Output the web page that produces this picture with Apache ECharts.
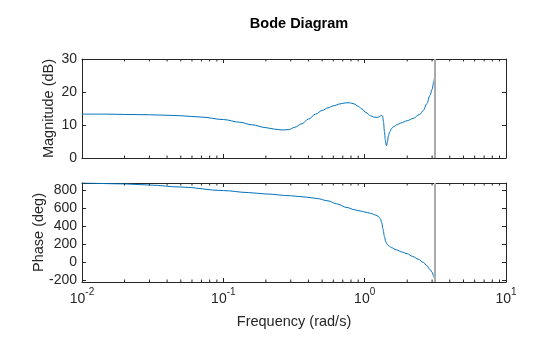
<!DOCTYPE html>
<html>
<head>
<meta charset="utf-8">
<script src="https://cdn.jsdelivr.net/npm/echarts@6/dist/echarts.min.js"></script>
<style>
  html, body { margin: 0; padding: 0; background: #fff; }
  #chart { width: 560px; height: 337px; }
</style>
</head>
<body>
<div id="chart"></div>
<script>
// Magnitude response (dB) against frequency (rad/s)
const magFreq = [0.01, 0.015, 0.02, 0.03, 0.04, 0.05, 0.07, 0.1, 0.13, 0.16, 0.2, 0.23, 0.26, 0.29,
  0.32, 0.36, 0.4, 0.45, 0.5, 0.55, 0.6, 0.67, 0.73, 0.78, 0.84, 0.9, 0.96, 1.02, 1.1, 1.16, 1.22,
  1.27, 1.3, 1.32, 1.34, 1.36, 1.38, 1.4, 1.42, 1.43, 1.45, 1.47, 1.5, 1.55, 1.6, 1.7, 1.8, 2.0,
  2.2, 2.45, 2.6, 2.75, 2.9, 3.0, 3.08, 3.1416];
const magDb = [13.3, 13.3, 13.2, 13.1, 12.95, 12.8, 12.4, 11.65, 10.85, 10.05, 9.2, 8.75, 8.5, 8.6,
  9.3, 10.4, 11.8, 13.3, 14.4, 15.2, 15.8, 16.4, 16.7, 16.75, 16.4, 15.7, 14.8, 13.8, 12.8, 12.4, 12.3,
  12.5, 12.8, 13.0, 12.6, 10.8, 8.0, 5.5, 3.9, 3.7, 5.0, 6.6, 7.8, 8.9, 9.5, 10.1, 10.6, 11.3,
  12.0, 13.2, 14.4, 16.4, 19.0, 20.8, 23.0, 25.6];

// Phase response (deg) against frequency (rad/s)
const phaseFreq = [0.01, 0.02, 0.03, 0.05, 0.1, 0.15, 0.2, 0.3, 0.39, 0.46, 0.55, 0.63, 0.75, 0.85,
  0.93, 1.0, 1.1, 1.2, 1.25, 1.29, 1.32, 1.35, 1.38, 1.41, 1.44, 1.48, 1.55, 1.67, 1.85, 2.0, 2.18,
  2.4, 2.6, 2.75, 2.9, 3.0, 3.07, 3.1416];
const phaseDeg = [887, 875, 862, 840, 800, 778, 762, 742, 726, 711, 685, 652, 610, 585,
  571, 560, 545, 525, 510, 485, 440, 365, 285, 228, 200, 180, 160, 136, 110, 92, 62,
  30, -5, -40, -85, -115, -155, -210];

// Nyquist frequency of the sampled system (rad/s)
const nyquistFreq = 3.1416;

// Axis ranges and tick values
const freqRange = [0.01, 10];
const magRange = [0, 30];
const magTicks = [0, 10, 20, 30];
const phaseRange = [-225, 885];
const phaseTicks = [-200, 0, 200, 400, 600, 800];
const minorFreqTicks = [0.02, 0.03, 0.04, 0.05, 0.06, 0.07, 0.08, 0.09,
  0.2, 0.3, 0.4, 0.5, 0.6, 0.7, 0.8, 0.9, 2, 3, 4, 5, 6, 7, 8, 9];

const ink = '#262626';
const font = "'Liberation Sans', Arial, Helvetica, sans-serif";
const lineBlue = '#0072BD';
const tickFont = 14;
const nameFont = 14.5;

function pair(xs, ys) { return xs.map((x, i) => [x, ys[i]]); }

function freqAxis(gridIndex, position, showLabels, withName) {
  const ax = {
    type: 'log', logBase: 10, gridIndex, position,
    min: freqRange[0], max: freqRange[1],
    axisLine: { show: true, onZero: false, lineStyle: { color: ink, width: 1 } },
    axisTick: { show: true, inside: true, length: 4, lineStyle: { color: ink } },
    splitLine: { show: false },
    axisLabel: { show: false }
  };
  if (showLabels) {
    ax.axisLabel = {
      show: true, margin: 5, fontFamily: font, color: ink,
      formatter: v => '{b|10}{s|' + Math.round(Math.log10(v)) + '}',
      rich: {
        b: { fontSize: tickFont, fontFamily: font, color: ink, lineHeight: 19, verticalAlign: 'bottom' },
        s: { fontSize: 10, fontFamily: font, color: ink, lineHeight: 10, verticalAlign: 'top' }
      }
    };
  }
  if (withName) {
    ax.name = 'Frequency (rad/s)';
    ax.nameLocation = 'middle';
    ax.nameGap = 32;
    ax.nameTextStyle = { fontFamily: font, fontSize: nameFont, color: ink };
  }
  return ax;
}

function valueAxis(gridIndex, position, range, ticks, name, nameGap) {
  const ax = {
    type: 'value', gridIndex, position,
    min: range[0], max: range[1],
    axisLine: { show: true, onZero: false, lineStyle: { color: ink, width: 1 } },
    axisTick: { show: true, inside: true, length: 4, customValues: ticks, lineStyle: { color: ink } },
    splitLine: { show: false },
    axisLabel: { show: false }
  };
  if (name) {
    ax.axisLabel = { show: true, customValues: ticks, margin: 5, fontFamily: font, fontSize: tickFont, color: ink };
    ax.name = name;
    ax.nameLocation = 'middle';
    ax.nameGap = nameGap;
    ax.nameMoveOverlap = false;
    ax.nameRotate = 90;
    ax.nameTextStyle = { fontFamily: font, fontSize: nameFont, color: ink };
  }
  return ax;
}

// Short log-decade ticks on the bottom and top edges of a panel
function minorTicks(xIdx, yIdx, yRange) {
  return {
    type: 'custom', xAxisIndex: xIdx, yAxisIndex: yIdx, silent: true, clip: false, z: 5,
    data: minorFreqTicks.map(v => [v, yRange[0]]),
    renderItem(params, api) {
      const v = api.value(0);
      const b = api.coord([v, yRange[0]]);
      const t = api.coord([v, yRange[1]]);
      const len = 2.5;
      return {
        type: 'group',
        children: [
          { type: 'line', shape: { x1: b[0], y1: b[1], x2: b[0], y2: b[1] - len }, style: { stroke: ink, lineWidth: 1 } },
          { type: 'line', shape: { x1: t[0], y1: t[1], x2: t[0], y2: t[1] + len }, style: { stroke: ink, lineWidth: 1 } }
        ]
      };
    }
  };
}

const nyquistLine = {
  silent: true, symbol: ['none', 'none'], label: { show: false },
  lineStyle: { color: '#ababab', width: 2, type: 'solid' },
  data: [{ xAxis: nyquistFreq }]
};

const chart = echarts.init(document.getElementById('chart'), null, { renderer: 'canvas' });
chart.setOption({
  animation: false,
  backgroundColor: '#fff',
  title: {
    text: 'Bode Diagram', left: 294, top: 11, textAlign: 'center',
    textStyle: { fontFamily: font, fontSize: nameFont, fontWeight: 'bold', color: '#000' }
  },
  grid: [
    { left: 82, top: 59, width: 424, height: 99 },
    { left: 82, top: 183, width: 424, height: 99 }
  ],
  xAxis: [
    freqAxis(0, 'bottom', false, false),
    freqAxis(0, 'top', false, false),
    freqAxis(1, 'bottom', true, true),
    freqAxis(1, 'top', false, false)
  ],
  yAxis: [
    valueAxis(0, 'left', magRange, magTicks, 'Magnitude (dB)', 26),
    valueAxis(0, 'right', magRange, magTicks, null, 0),
    valueAxis(1, 'left', phaseRange, phaseTicks, 'Phase (deg)', 36),
    valueAxis(1, 'right', phaseRange, phaseTicks, null, 0)
  ],
  series: [
    {
      type: 'line', xAxisIndex: 0, yAxisIndex: 0, data: pair(magFreq, magDb),
      showSymbol: false, smooth: 0.35, smoothMonotone: 'x',
      lineStyle: { color: lineBlue, width: 1 }, z: 3,
      markLine: nyquistLine
    },
    {
      type: 'line', xAxisIndex: 2, yAxisIndex: 2, data: pair(phaseFreq, phaseDeg),
      showSymbol: false, smooth: 0.35, smoothMonotone: 'x',
      lineStyle: { color: lineBlue, width: 1 }, z: 3,
      markLine: nyquistLine
    },
    minorTicks(0, 0, magRange),
    minorTicks(2, 2, phaseRange)
  ]
});
</script>
</body>
</html>
